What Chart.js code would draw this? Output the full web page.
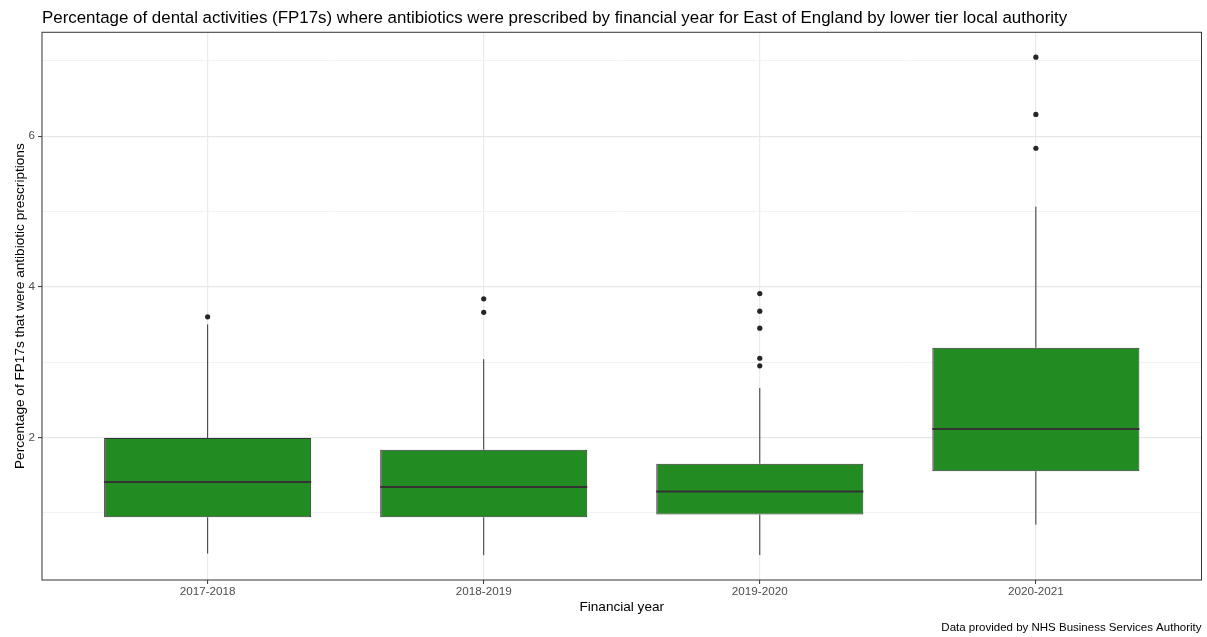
<!DOCTYPE html>
<html>
<head>
<meta charset="utf-8">
<title>Dental antibiotic prescribing – East of England</title>
<script src="https://cdn.jsdelivr.net/npm/chart.js@4.4.1/dist/chart.umd.min.js"></script>
<style>
  html, body { margin: 0; padding: 0; background: #ffffff; }
  #wrap { width: 1207px; height: 637px; }
</style>
</head>
<body>
<div id="wrap"><canvas id="chart" width="1207" height="637"></canvas></div>
<script>
// Financial years on the x axis
const categories = ['2017-2018', '2018-2019', '2019-2020', '2020-2021'];

// Box-plot summary per year (% of FP17s with an antibiotic prescription)
const lowerWhisker = [0.455, 0.435, 0.435, 0.84];
const quartile1    = [0.937, 0.937, 0.973, 1.548];
const medians      = [1.406, 1.34, 1.28, 2.11];
const quartile3    = [1.99, 1.836, 1.65, 3.19];
const upperWhisker = [3.50, 3.037, 2.655, 5.064];

// Lower tier local authorities beyond the whiskers
const outliers = [
  [3.60],
  [3.66, 3.84],
  [2.95, 3.05, 3.45, 3.675, 3.91],
  [5.84, 6.29, 7.05]
];

// Labelled y ticks
const yTickLabels = [2, 4, 6];

const FONT = '"Liberation Sans", Arial, Helvetica, sans-serif';
const DARK = '#333333';

// Range of the value axis, padded by 5% on each side
const allValues = lowerWhisker.concat(upperWhisker, ...outliers);
const vLo = Math.min(...allValues);
const vHi = Math.max(...allValues);
const vPad = (vHi - vLo) * 0.05;

const boxData = categories.map((c, i) => ({ x: i + 1, y: [quartile1[i], quartile3[i]] }));
const outlierData = [];
outliers.forEach((list, i) => list.forEach(v => outlierData.push({ x: i + 1, y: v })));

// Whiskers, medians and the panel frame
const boxplotExtras = {
  id: 'boxplotExtras',
  beforeDatasetsDraw(chart) {
    const { ctx, chartArea, scales } = chart;
    ctx.save();
    ctx.beginPath();
    ctx.rect(chartArea.left, chartArea.top, chartArea.width, chartArea.height);
    ctx.clip();
    ctx.strokeStyle = DARK;
    ctx.lineWidth = 1;
    categories.forEach((c, i) => {
      const x = scales.x.getPixelForValue(i + 1);
      ctx.beginPath();
      ctx.moveTo(x, scales.y.getPixelForValue(quartile3[i]));
      ctx.lineTo(x, scales.y.getPixelForValue(upperWhisker[i]));
      ctx.moveTo(x, scales.y.getPixelForValue(quartile1[i]));
      ctx.lineTo(x, scales.y.getPixelForValue(lowerWhisker[i]));
      ctx.stroke();
    });
    ctx.restore();
  },
  afterDatasetsDraw(chart) {
    const { ctx, scales } = chart;
    const bars = chart.getDatasetMeta(0).data;
    ctx.save();
    ctx.strokeStyle = DARK;
    ctx.lineWidth = 2;
    categories.forEach((c, i) => {
      const x = scales.x.getPixelForValue(i + 1);
      const half = bars[i].width / 2;
      const y = scales.y.getPixelForValue(medians[i]);
      ctx.beginPath();
      ctx.moveTo(x - half, y);
      ctx.lineTo(x + half, y);
      ctx.stroke();
    });
    ctx.restore();
  },
  afterDraw(chart) {
    const { ctx, chartArea } = chart;
    ctx.save();
    ctx.strokeStyle = DARK;
    ctx.lineWidth = 1;
    ctx.strokeRect(chartArea.left, chartArea.top, chartArea.width, chartArea.height);
    ctx.restore();
  }
};

new Chart(document.getElementById('chart'), {
  type: 'bar',
  data: {
    datasets: [
      {
        type: 'bar',
        data: boxData,
        backgroundColor: '#228B22',
        borderColor: DARK,
        borderWidth: 1,
        borderSkipped: false,
        barPercentage: 0.75,
        categoryPercentage: 1,
        order: 2
      },
      {
        type: 'scatter',
        data: outlierData,
        backgroundColor: '#262626',
        borderColor: '#262626',
        pointRadius: 2.6,
        borderWidth: 0,
        order: 1
      }
    ]
  },
  options: {
    responsive: false,
    animation: false,
    events: [],
    layout: { padding: { top: 4, right: 5.5, bottom: 2, left: 10 } },
    plugins: {
      legend: { display: false },
      tooltip: { enabled: false },
      title: {
        display: true,
        text: 'Percentage of dental activities (FP17s) where antibiotics were prescribed by financial year for East of England by lower tier local authority',
        align: 'start',
        fullSize: false,
        color: '#000000',
        font: { family: FONT, size: 16.9, weight: 'normal' },
        padding: { top: 4, bottom: 4 }
      },
      subtitle: {
        display: true,
        position: 'bottom',
        text: 'Data provided by NHS Business Services Authority',
        align: 'end',
        fullSize: false,
        color: '#000000',
        font: { family: FONT, size: 11.5, weight: 'normal' },
        padding: { top: 0, bottom: 0 }
      }
    },
    scales: {
      x: {
        type: 'linear',
        offset: false,
        min: 0.4,
        max: 4.6,
        afterBuildTicks: s => { s.ticks = categories.map((c, i) => ({ value: i + 1 })); },
        afterFit: s => { s.height = 41.2; },
        ticks: {
          autoSkip: false,
          maxRotation: 0,
          padding: 1,
          color: '#4d4d4d',
          font: { family: FONT, size: 11.7 },
          callback: v => categories[Math.round(v) - 1]
        },
        grid: {
          offset: false,
          color: '#ebebeb',
          lineWidth: 1.2,
          tickLength: 4,
          tickColor: DARK,
          tickWidth: 1
        },
        border: { display: false },
        title: {
          display: true,
          text: 'Financial year',
          color: '#000000',
          font: { family: FONT, size: 13.6 },
          padding: { top: 0, bottom: 6 }
        }
      },
      y: {
        type: 'linear',
        min: vLo - vPad,
        max: vHi + vPad,
        afterBuildTicks: s => {
          const t = [];
          for (let v = Math.ceil(s.min); v <= Math.floor(s.max); v++) t.push({ value: v });
          s.ticks = t;
        },
        afterFit: s => { s.width = 32; },
        ticks: {
          padding: 3,
          color: '#4d4d4d',
          font: { family: FONT, size: 11.7 },
          callback: v => (yTickLabels.includes(v) ? String(v) : '')
        },
        grid: {
          color: c => (yTickLabels.includes(c.tick.value) ? '#e8e8e8' : '#f0f0f0'),
          lineWidth: c => (yTickLabels.includes(c.tick.value) ? 1.2 : 0.9),
          tickLength: 4,
          tickColor: c => (yTickLabels.includes(c.tick.value) ? DARK : 'rgba(0,0,0,0)'),
          tickWidth: 1
        },
        border: { display: false },
        title: {
          display: true,
          text: 'Percentage of FP17s that were antibiotic prescriptions',
          color: '#000000',
          font: { family: FONT, size: 13.6 },
          padding: { top: 2, bottom: 0 }
        }
      }
    }
  },
  plugins: [boxplotExtras]
});
</script>
</body>
</html>
